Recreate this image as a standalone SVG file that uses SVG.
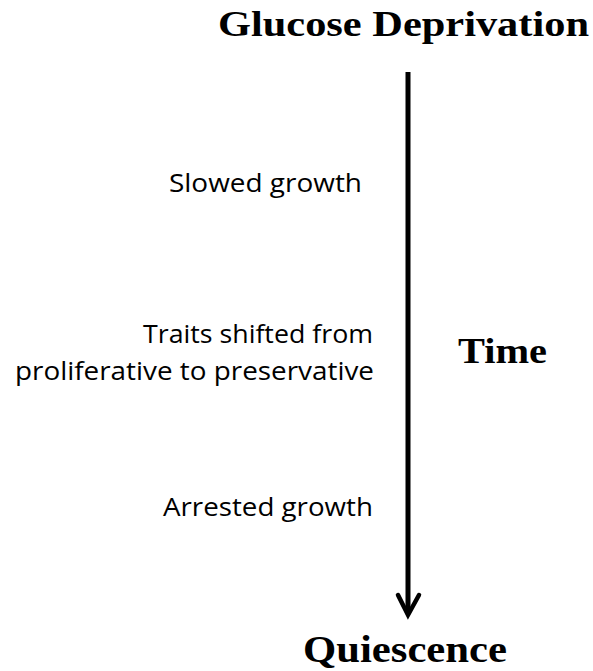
<svg xmlns="http://www.w3.org/2000/svg" width="593" height="671" viewBox="0 0 593 671">
<style>
.t{font-family:"Liberation Serif",serif;font-weight:bold;fill:#000}
.s{font-family:"Open Sans","Liberation Sans",sans-serif;font-size:26px;fill:#000}
</style>
<rect width="593" height="671" fill="#fff"/>
<g id="glucose"><text class="t" x="218" y="36" font-size="36" textLength="371" lengthAdjust="spacingAndGlyphs">Glucose Deprivation</text></g>
<g id="quiescence"><text class="t" x="303" y="662" font-size="38" textLength="204" lengthAdjust="spacingAndGlyphs">Quiescence</text></g>
<g id="time"><text class="t" x="458" y="363" font-size="35" textLength="89" lengthAdjust="spacingAndGlyphs">Time</text></g>
<g id="slowed"><text class="s" x="169" y="192" textLength="193" lengthAdjust="spacingAndGlyphs">Slowed growth</text></g>
<g id="traits"><text class="s" x="143" y="343" textLength="230" lengthAdjust="spacingAndGlyphs">Traits shifted from</text><text class="s" x="15" y="380" textLength="359" lengthAdjust="spacingAndGlyphs">proliferative to preservative</text></g>
<g id="arrested"><text class="s" x="163" y="516" textLength="210" lengthAdjust="spacingAndGlyphs">Arrested growth</text></g>
<g id="connectors" stroke="#000" stroke-width="5" fill="none">
<line x1="408" y1="72" x2="408" y2="613"/>
<polyline points="398,595 408,615 419,595" stroke-width="4.5" stroke-linecap="round" stroke-linejoin="miter"/>
</g>
</svg>
